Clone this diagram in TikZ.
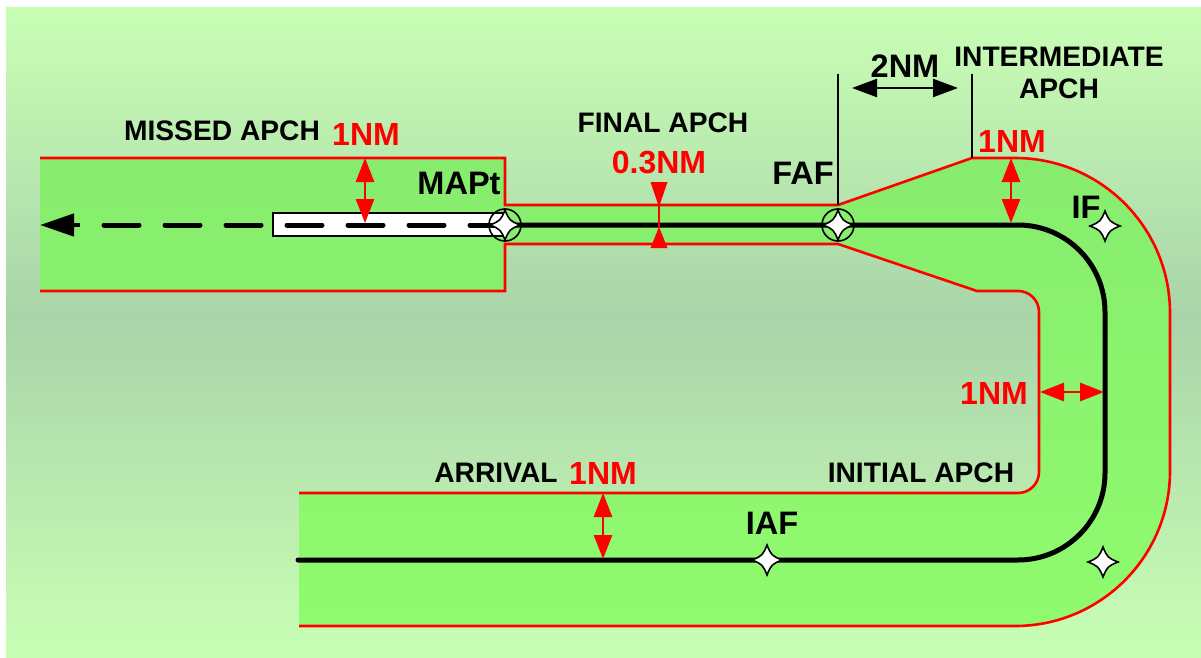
\documentclass[tikz,border=0pt]{standalone}
\usepackage{fontspec}
\setmainfont{Liberation Sans}
\usetikzlibrary{arrows.meta}
\definecolor{bgend}{HTML}{C9FFB5}
\definecolor{bgmid}{HTML}{A9D4A9}
\definecolor{cortop}{HTML}{87EC6E}
\definecolor{corbot}{HTML}{90FB6E}
\definecolor{redline}{HTML}{FF0000}
\newcommand{\starpath}[2]{%
  \draw[starmark] (#1,#2-15) .. controls (#1+4,#2-5) and (#1+5,#2-4) .. (#1+15,#2)
   .. controls (#1+5,#2+4) and (#1+4,#2+5) .. (#1,#2+15)
   .. controls (#1-4,#2+5) and (#1-5,#2+4) .. (#1-15,#2)
   .. controls (#1-5,#2-4) and (#1-4,#2-5) .. (#1,#2-15) -- cycle;}
\tikzset{
  x=1pt,y=-1pt,
  starmark/.style={draw=black,line width=1.6pt,fill=white,line join=miter},
  ringmark/.style={draw=black,line width=1.6pt},
  rededge/.style={draw=redline,line width=2.6pt,line join=miter},
  redarrow/.style={draw=redline,line width=2.8pt,{Triangle[length=24pt,width=18pt]}-{Triangle[length=24pt,width=18pt]}},
  blackdim/.style={draw=black,line width=2.4pt,{Triangle[length=25pt,width=18pt]}-{Triangle[length=25pt,width=18pt]}},
  tick/.style={draw=black,line width=2.7pt},
  track/.style={draw=black,line width=5pt,line cap=round},
  lab/.style={font=\bfseries\fontsize{28.2}{33}\selectfont,text=black,inner sep=0pt,align=center},
  bigl/.style={font=\bfseries\fontsize{32.5}{36}\selectfont,text=black,inner sep=0pt},
  redl/.style={font=\bfseries\fontsize{32}{36}\selectfont,text=redline,inner sep=0pt},
}
\begin{document}
\begin{tikzpicture}
\useasboundingbox (0,0) rectangle (1201,658);
% background
\shade[top color=bgend,bottom color=bgmid] (6,8) rectangle (1201,318);
\shade[top color=bgmid,bottom color=bgend] (6,318) rectangle (1201,657);
% corridor
\shade[top color=cortop,bottom color=corbot]
 (40,158) -- (505,158) -- (505,205) -- (838,205) -- (972,158) -- (1015,158)
 arc[start angle=-90,end angle=0,radius=155] -- (1170,471)
 arc[start angle=0,end angle=90,radius=155] -- (299,626) -- (299,493) -- (1018,493)
 arc[start angle=90,end angle=0,radius=21] -- (1039,312)
 arc[start angle=0,end angle=-90,radius=21] -- (977,291) -- (838,244) -- (505,244)
 -- (505,291) -- (40,291) -- cycle;
\draw[rededge] (40,158) -- (505,158) -- (505,205) -- (838,205) -- (972,158) -- (1015,158)
 arc[start angle=-90,end angle=0,radius=155] -- (1170,471)
 arc[start angle=0,end angle=90,radius=155] -- (299,626);
\draw[rededge] (299,493) -- (1018,493)
 arc[start angle=90,end angle=0,radius=21] -- (1039,312)
 arc[start angle=0,end angle=-90,radius=21] -- (977,291) -- (838,244) -- (505,244)
 -- (505,291) -- (40,291);
% white runway box
\draw[draw=black,line width=1.7pt,fill=white] (273,213) rectangle (505,236);
% tracks
\draw[track] (298,560) -- (1018,560) arc[start angle=90,end angle=0,radius=87] -- (1105,312)
 arc[start angle=0,end angle=-90,radius=87] -- (505,225);
\coordinate (mapt) at (505,225);
\coordinate (arrowend) at (40,225);
\coordinate (dashstart) at (104,225);
\draw[draw=black,line width=5pt,line cap=round,dash pattern=on 35pt off 26pt] (dashstart) -- (mapt);
\draw[draw=black,line width=4.5pt,-{Triangle[length=34pt,width=22pt]}] (80,225) -- (arrowend);
% markers
\draw[ringmark] (505,225) circle[radius=16];
\draw[ringmark] (838,225) circle[radius=16];
\starpath{505}{225}
\starpath{838}{225}
\starpath{1105}{226}
\starpath{1103}{562}
\starpath{767}{560}
% dimension lines
\coordinate (t1a) at (838,74); \coordinate (t1b) at (838,205);
\coordinate (t2a) at (972,74); \coordinate (t2b) at (972,158);
\draw[tick] (t1a) -- (t1b);
\draw[tick] (t2a) -- (t2b);
\coordinate (d1) at (852,88); \coordinate (d2) at (958,88);
\draw[blackdim] (d1) -- (d2);
% red arrows
\coordinate (r1a) at (365,158); \coordinate (r1b) at (365,223);
\coordinate (r2a) at (1011,158); \coordinate (r2b) at (1011,223);
\coordinate (r3a) at (603,493); \coordinate (r3b) at (603,559);
\coordinate (r4a) at (1040,392); \coordinate (r4b) at (1104,392);
\draw[redarrow] (r1a) -- (r1b);
\draw[redarrow] (r2a) -- (r2b);
\draw[redarrow] (r3a) -- (r3b);
\draw[redarrow] (r4a) -- (r4b);
\coordinate (f1) at (659,205); \coordinate (f2) at (659,228);
\draw[draw=redline,line width=2.4pt] (f1) -- (f2);
\fill[redline] (659,207) -- (650.5,182) -- (667.5,182) -- cycle;
\fill[redline] (659,227) -- (650.5,248) -- (667.5,248) -- cycle;
% labels
\node[lab] (missed) at (222,131) {MISSED APCH};
\node[redl] (onea) at (366,134) {1NM};
\node[bigl] (mapl) at (459,183) {MAPt};
\node[lab] (final) at (663,123) {FINAL APCH};
\node[redl] (oneb) at (659,163) {0.3NM};
\node[bigl] (faf) at (803,173) {FAF};
\node[bigl] (two) at (905,66) {2NM};
\node[lab] (inter) at (1059,73) {INTERMEDIATE\\[-1pt]APCH};
\node[redl] (onec) at (1012,141) {1NM};
\node[bigl] (ifl) at (1086,207) {IF};
\node[redl] (oned) at (994,393) {1NM};
\node[lab] (init) at (921,473) {INITIAL APCH};
\node[lab] (arr) at (496,473) {ARRIVAL};
\node[redl] (onee) at (603,473) {1NM};
\node[bigl] (iaf) at (772,523) {IAF};
\end{tikzpicture}
\end{document}
